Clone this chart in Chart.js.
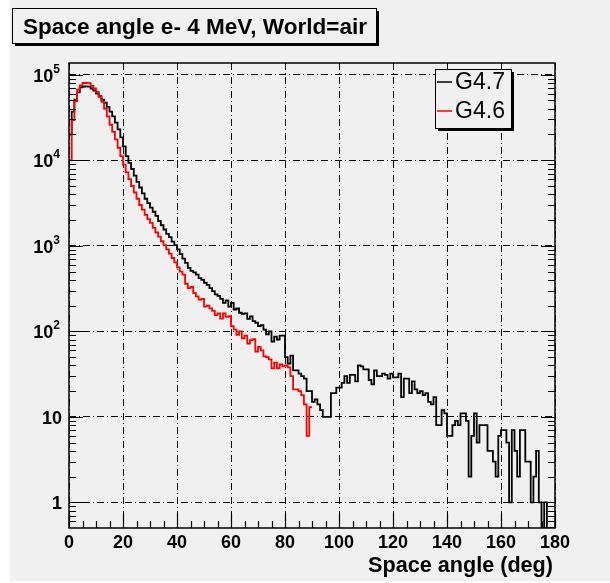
<!DOCTYPE html>
<html>
<head>
<meta charset="utf-8">
<title>Space angle e- 4 MeV, World=air</title>
<script src="https://cdn.jsdelivr.net/npm/chart.js@4.4.1/dist/chart.umd.min.js"></script>
<style>
  html, body { margin: 0; padding: 0; background: #fff; }
  canvas { display: block; }
</style>
</head>
<body>
<canvas id="chart" width="610" height="583"></canvas>
<script>
// --- data (1 degree bins) ---
const chartTitle = "Space angle e- 4 MeV, World=air";
const xAxisTitle = "Space angle (deg)";
const seriesNames = ["G4.7", "G4.6"];
const seriesColors = ["#000000", "#ff0000"];

const g47 = [
  20000, 37000, 51000, 62000, 71000, 72500, 73000, 72500, 69000, 65000,
  60000, 56000, 51000, 47000, 42000, 37000, 32500, 27500, 23000, 18500,
  14500, 11200, 9300, 7900, 6600, 5600, 4800, 4100, 3550, 3150,
  2800, 2500, 2240, 1950, 1740, 1550, 1380, 1260, 1120, 1020,
  910, 800, 710, 630, 550, 510, 490, 460, 420, 400,
  370, 350, 320, 295, 270, 260, 240, 215, 230, 195,
  215, 180, 185, 165, 160, 162, 140, 150, 132, 126,
  115, 118, 105, 92, 100, 76, 87, 80, 89, 89,
  50, 42, 52, 35, 35, 32, 30, 28, 20, 20,
  15, 16, 14, 12, 10, 10, 10, 19, 19, 22,
  22, 25, 30, 25, 31, 31, 26, 40, 39, 36,
  36, 27, 24, 35, 30, 30, 32, 31, 28, 32,
  29, 29, 32, 17, 28, 28, 19, 26, 21, 19,
  20, 18, 19, 15, 14, 17, 8, 8, 12, 11,
  6, 6, 8, 9, 8, 11, 11, 9, 2, 6,
  11, 5, 8, 8, 8, 4, 4, 3, 2, 6,
  7, 7, 5, 1, 7, 4, 2, 7, 7, 3,
  3, 1, 2, 4, 1, 0, 1, 0, 0, 0
];

const g46 = [
  10000, 29500, 49000, 67000, 75000, 80000, 80000, 79500, 74000, 69000,
  63000, 55000, 48000, 40000, 32500, 26000, 21500, 17500, 14000, 11200,
  8900, 7200, 6000, 5000, 4200, 3550, 3000, 2650, 2300, 2050,
  1850, 1620, 1430, 1280, 1130, 1020, 910, 810, 720, 640,
  560, 500, 460, 360, 320, 330, 280, 257, 235, 240,
  195, 200, 186, 174, 155, 162, 141, 162, 148, 151,
  115, 105, 91, 100, 83, 89, 72, 79, 81, 58,
  66, 60, 51, 50, 47, 37, 43, 37, 41, 39,
  40, 38, 30, 21, 21, 20, 18, 14, 6, 13
];

const xTickValues = [0, 20, 40, 60, 80, 100, 120, 140, 160, 180];
const yDecades = [1, 10, 100, 1000, 10000, 100000];
const yTickBase = ["1", "10", "10", "10", "10", "10"];
const yTickExp = ["", "", "2", "3", "4", "5"];

const xMin = 0, xMax = 180;
const yMin = 0.503, yMax = 1.37e5;

const padColor = "#f0f0f0";
const gridDash = [7, 3, 1, 3];
const fontFam = '"Liberation Sans", Arial, Helvetica, sans-serif';

// histogram outline: one point per left bin edge plus a closing point
function histPoints(vals)
{
  const pts = vals.map((v, i) => ({ x: i, y: v > 0 ? v : yMin }));
  pts.push({ x: vals.length, y: pts[pts.length - 1].y });
  return pts;
}

function fitFont(ctx, text, weight, width)
{
  ctx.font = weight + " 20px " + fontFam;
  const size = 20 * width / ctx.measureText(text).width;
  return weight + " " + size.toFixed(2) + "px " + fontFam;
}

function shadowBox(ctx, x, y, w, h)
{
  ctx.fillStyle = "#000";
  ctx.fillRect(x + 3, y + 3, w, h);
  ctx.fillStyle = padColor;
  ctx.fillRect(x, y, w, h);
  ctx.strokeStyle = "#000";
  ctx.lineWidth = 1;
  ctx.strokeRect(x + 0.5, y + 0.5, w, h);
}

const rootStyle = {
  id: "rootStyle",
  beforeDraw(chart)
  {
    const ctx = chart.ctx;
    ctx.save();
    ctx.fillStyle = "#fff";
    ctx.fillRect(0, 0, chart.width, chart.height);
    ctx.fillStyle = padColor;
    ctx.fillRect(10, 0, chart.width - 10, 581);
    ctx.restore();
  },
  afterDatasetsDraw(chart)
  {
    const ctx = chart.ctx;
    const a = chart.chartArea;
    const xs = chart.scales.x, ys = chart.scales.y;
    ctx.save();
    ctx.strokeStyle = "#000";
    ctx.lineWidth = 1.5;
    ctx.strokeRect(a.left, a.top, a.right - a.left, a.bottom - a.top);

    // x ticks, inside, every 5 deg
    ctx.lineWidth = 1.2;
    ctx.beginPath();
    for (let v = xMin; v <= xMax; v += 5)
    {
      const px = Math.round(xs.getPixelForValue(v)) + 0.5;
      const len = v % 20 === 0 ? 14 : 7;
      ctx.moveTo(px, a.bottom);
      ctx.lineTo(px, a.bottom - len);
    }
    // y ticks, inside, left and right
    for (let d = 0.1; d <= 1e5; d *= 10)
    {
      for (let k = 1; k <= 9; k++)
      {
        const v = k * d;
        if (v < yMin || v > yMax) continue;
        const py = Math.round(ys.getPixelForValue(v)) + 0.5;
        const len = k === 1 ? 14 : 7;
        ctx.moveTo(a.left, py);
        ctx.lineTo(a.left + len, py);
        ctx.moveTo(a.right, py);
        ctx.lineTo(a.right - len, py);
      }
    }
    ctx.stroke();
    ctx.restore();
  },
  afterDraw(chart)
  {
    const ctx = chart.ctx;
    const xs = chart.scales.x, ys = chart.scales.y;
    ctx.save();
    ctx.fillStyle = "#000";

    // x tick labels
    ctx.font = "bold 18px " + fontFam;
    ctx.textAlign = "center";
    ctx.textBaseline = "alphabetic";
    xTickValues.forEach(v => {
      ctx.fillText(String(v), xs.getPixelForValue(v), 548);
    });

    // y tick labels (10 with superscript exponent)
    yDecades.forEach((v, i) => {
      const py = ys.getPixelForValue(v);
      ctx.textAlign = "right";
      if (yTickExp[i] === "")
      {
        ctx.font = "bold 18px " + fontFam;
        ctx.fillText(yTickBase[i], 62, py + 7);
      }
      else
      {
        ctx.font = "bold 12px " + fontFam;
        ctx.fillText(yTickExp[i], 60, py - 2);
        const ew = ctx.measureText(yTickExp[i]).width;
        ctx.font = "bold 18px " + fontFam;
        ctx.fillText(yTickBase[i], 60 - ew, py + 7);
      }
    });

    // x axis title
    ctx.textAlign = "right";
    ctx.font = fitFont(ctx, xAxisTitle, "bold", 185);
    ctx.fillText(xAxisTitle, 553, 572);

    // title box
    shadowBox(ctx, 12, 8, 364, 35);
    ctx.fillStyle = "#000";
    ctx.textAlign = "left";
    ctx.font = fitFont(ctx, chartTitle, "bold", 344);
    ctx.fillText(chartTitle, 23, 33.5);

    // legend box
    shadowBox(ctx, 435, 69, 76, 59);
    const rows = [[0, 82], [1, 111]];
    rows.forEach(([s, y]) => {
      ctx.strokeStyle = seriesColors[s];
      ctx.lineWidth = 1.5;
      ctx.beginPath();
      ctx.moveTo(437, y);
      ctx.lineTo(452, y);
      ctx.stroke();
      ctx.fillStyle = "#000";
      ctx.font = fitFont(ctx, seriesNames[s], "normal", 50);
      ctx.fillText(seriesNames[s], 455, y + 6.5);
    });
    ctx.restore();
  }
};

const gridOpts = { color: "#000", lineWidth: 1, drawTicks: false };

new Chart(document.getElementById("chart"), {
  type: "line",
  data: {
    datasets: [
      {
        label: seriesNames[1],
        data: histPoints(g46),
        borderColor: seriesColors[1],
        borderWidth: 1.8,
        stepped: "before",
        pointRadius: 0,
        fill: false,
        order: 0
      },
      {
        label: seriesNames[0],
        data: histPoints(g47),
        borderColor: seriesColors[0],
        borderWidth: 1.8,
        stepped: "before",
        pointRadius: 0,
        fill: false,
        order: 1
      }
    ]
  },
  options: {
    responsive: false,
    animation: false,
    devicePixelRatio: 1,
    events: [],
    layout: { padding: { left: 69, top: 63, right: 55, bottom: 55 } },
    plugins: { legend: { display: false }, tooltip: { enabled: false } },
    scales: {
      x: {
        type: "linear",
        min: xMin,
        max: xMax,
        ticks: { display: false, stepSize: 20 },
        grid: gridOpts,
        border: { display: false, dash: gridDash }
      },
      y: {
        type: "logarithmic",
        min: yMin,
        max: yMax,
        bounds: "data",
        ticks: { display: false },
        afterBuildTicks: (s) => { s.ticks = yDecades.map(v => ({ value: v })); },
        grid: gridOpts,
        border: { display: false, dash: gridDash }
      }
    }
  },
  plugins: [rootStyle]
});
</script>
</body>
</html>
